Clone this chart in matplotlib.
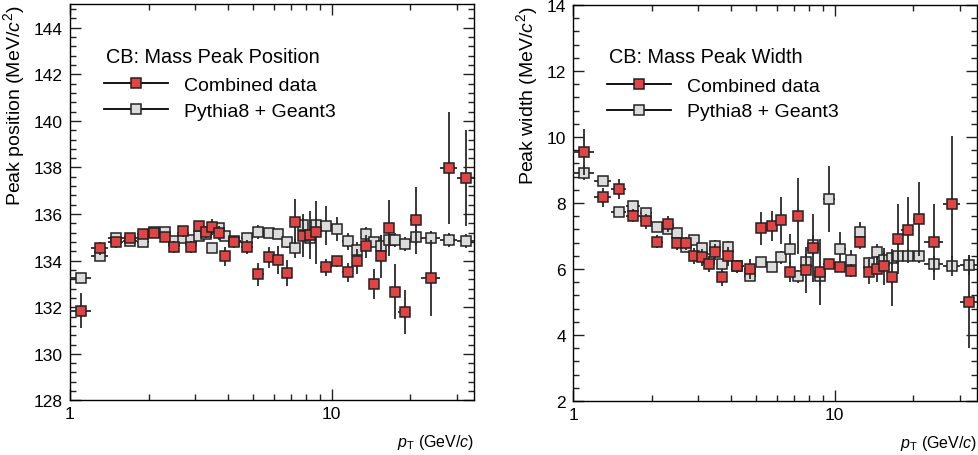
import numpy as np
import matplotlib
matplotlib.use("Agg")
import matplotlib.pyplot as plt
from matplotlib.lines import Line2D
from matplotlib.ticker import LogLocator, FixedLocator, FixedFormatter, MultipleLocator, NullFormatter

plt.rcParams['font.family'] = ['Liberation Sans', 'DejaVu Sans']
plt.rcParams['mathtext.fontset'] = 'custom'
plt.rcParams['mathtext.rm'] = 'Liberation Sans'
plt.rcParams['mathtext.it'] = 'Liberation Sans:italic'
plt.rcParams['mathtext.bf'] = 'Liberation Sans:bold'

# pT bin edges (GeV/c)
pt_edges = [1.0, 1.2, 1.4, 1.6, 1.8, 2.0, 2.2, 2.4, 2.6, 2.8, 3.0, 3.2, 3.4, 3.6, 3.8, 4.0,
            4.5, 5.0, 5.5, 6.0, 6.5, 7.0, 7.5, 8.0, 8.5, 9.0,
            10, 11, 12, 13, 14, 15, 16, 17, 18,
            20, 22, 26, 30, 35]

# Peak position (MeV/c^2)
pos_data = [131.85, 134.53, 134.78, 134.96, 135.14, 135.17, 135.00, 134.60, 135.26, 134.60,
            135.50, 135.24, 135.45, 135.17, 134.18, 134.81, 134.60, 133.42, 134.14, 134.04,
            133.47, 135.67, 135.07, 135.10, 135.21, 133.71, 133.97, 133.50, 133.97, 134.61,
            133.00, 134.18, 135.40, 132.67, 131.80, 135.74, 133.25, 137.97, 137.55]
pos_data_err = [0.75, 0.27, 0.24, 0.20, 0.21, 0.15, 0.15, 0.26, 0.23, 0.25,
                0.21, 0.26, 0.34, 0.30, 0.39, 0.25, 0.30, 0.50, 0.45, 0.60,
                0.54, 0.97, 0.93, 1.04, 1.37, 0.36, 0.25, 0.41, 0.54, 0.50,
                0.63, 0.93, 1.20, 1.18, 0.93, 1.44, 1.64, 2.40, 2.05]
pos_mc = [133.24, 134.21, 134.97, 134.86, 134.78, 135.24, 135.21, 134.86, 134.97, 134.88,
          135.07, 135.14, 134.53, 135.39, 135.07, 134.86, 134.96, 135.21, 135.17, 135.14,
          134.78, 134.53, 135.53, 134.96, 135.53, 135.50, 135.36, 134.83, 134.45, 135.14,
          134.82, 134.61, 134.90, 134.90, 134.71, 135.00, 134.96, 134.88, 134.83]
pos_mc_err = [0.12, 0.10, 0.10, 0.10, 0.10, 0.10, 0.10, 0.10, 0.10, 0.12,
              0.12, 0.12, 0.15, 0.15, 0.15, 0.15, 0.15, 0.30, 0.20, 0.20,
              0.25, 0.40, 0.30, 0.30, 0.30, 0.84, 0.50, 0.36, 0.36, 0.30,
              0.20, 0.50, 0.30, 0.30, 0.30, 0.30, 0.30, 0.30, 0.30]

# Peak width (MeV/c^2)
wid_data = [9.55, 8.17, 8.42, 7.62, 7.45, 6.83, 7.36, 6.78, 6.78, 6.40,
            6.35, 6.15, 6.52, 5.75, 6.38, 6.08, 6.00, 7.24, 7.31, 7.48,
            5.90, 7.60, 5.98, 6.63, 5.90, 6.15, 6.05, 5.95, 6.81, 5.92,
            6.00, 6.08, 5.75, 6.91, 7.18, 7.52, 6.81, 7.97, 5.01]
wid_data_err = [0.70, 0.28, 0.30, 0.20, 0.23, 0.20, 0.25, 0.20, 0.20, 0.25,
                0.25, 0.25, 0.25, 0.25, 0.30, 0.20, 0.30, 0.50, 0.45, 0.71,
                0.30, 1.15, 0.70, 1.03, 1.00, 0.15, 0.15, 0.20, 0.20, 0.38,
                0.40, 0.55, 0.86, 1.06, 1.00, 1.13, 1.15, 2.05, 1.40]
wid_mc = [8.91, 8.66, 7.72, 7.90, 7.69, 7.28, 7.21, 7.09, 6.66, 6.88,
          6.64, 6.30, 6.69, 6.15, 6.66, 6.10, 5.78, 6.20, 6.05, 6.35,
          6.61, 5.78, 6.22, 6.73, 5.80, 8.12, 6.61, 6.28, 7.13, 6.17,
          6.52, 6.27, 6.33, 6.38, 6.40, 6.38, 6.15, 6.10, 6.12]
wid_mc_err = [0.20, 0.12, 0.10, 0.12, 0.10, 0.10, 0.15, 0.10, 0.15, 0.15,
              0.15, 0.15, 0.20, 0.15, 0.20, 0.15, 0.15, 0.15, 0.15, 0.20,
              0.45, 0.20, 0.25, 0.30, 0.30, 1.00, 0.50, 0.30, 0.30, 0.20,
              0.25, 0.25, 0.20, 0.20, 0.20, 0.20, 0.25, 0.30, 0.30]

edges = np.array(pt_edges)
pt = 0.5 * (edges[1:] + edges[:-1])
pt_halfwidth = 0.5 * (edges[1:] - edges[:-1])

RED = '#e04444'
GREY = '#dcdcdc'
BAR = '#2a2a2a'
EDGE = '#222222'

fig = plt.figure(figsize=(9.79, 4.56), dpi=100)
ax1 = fig.add_axes([0.0715, 0.1197, 0.4127, 0.8684])
ax2 = fig.add_axes([0.5853, 0.1184, 0.4127, 0.8684])


def draw_panel(ax, data, data_err, mc, mc_err, ylim, ylabel, title):
    ax.errorbar(pt, mc, xerr=pt_halfwidth, yerr=mc_err, fmt='s', ms=7, mfc=GREY,
                mec=EDGE, mew=1.1, ecolor=BAR, elinewidth=1.3, capsize=0, zorder=3)
    ax.errorbar(pt, data, xerr=pt_halfwidth, yerr=data_err, fmt='s', ms=7, mfc=RED,
                mec=EDGE, mew=1.1, ecolor=BAR, elinewidth=1.3, capsize=0, zorder=4)
    ax.set_xscale('log')
    ax.set_xlim(1, 35)
    ax.set_ylim(*ylim)
    ax.xaxis.set_major_locator(FixedLocator([1, 10]))
    ax.xaxis.set_major_formatter(FixedFormatter(['1', '10']))
    ax.xaxis.set_minor_locator(LogLocator(base=10, subs=np.arange(2, 10)))
    ax.xaxis.set_minor_formatter(NullFormatter())
    ax.yaxis.set_major_locator(MultipleLocator(2))
    ax.yaxis.set_minor_locator(MultipleLocator(0.4))
    ax.tick_params(which='both', direction='in', top=True, right=True,
                   labelsize=12.5, width=1.0, color=EDGE)
    ax.tick_params(axis='y', pad=5)
    ax.tick_params(axis='x', pad=4)
    ax.tick_params(which='major', length=8)
    ax.tick_params(which='minor', length=4.5)
    for sp in ax.spines.values():
        sp.set_linewidth(1.0)
    ax.set_ylabel(ylabel, fontsize=14, loc='top', labelpad=5)
    ax.set_xlabel(r'$p_{\mathrm{T}}$ (GeV/$c$)', fontsize=11.5, loc='right', labelpad=8)

    ax.text(0.089, 0.869, title, transform=ax.transAxes, fontsize=14.3,
            ha='left', va='center')
    h_data = Line2D([], [], color='black', lw=1.3, marker='s', ms=7, mfc=RED,
                    mec=EDGE, mew=1.1)
    h_mc = Line2D([], [], color='black', lw=1.3, marker='s', ms=7, mfc=GREY,
                  mec=EDGE, mew=1.1)
    ax.legend([h_data, h_mc], ['Combined data', 'Pythia8 + Geant3'],
              loc='upper left', bbox_to_anchor=(0.065, 0.838), frameon=False,
              fontsize=14, handlelength=3.3, handletextpad=0.8, labelspacing=0.42,
              borderaxespad=0)


draw_panel(ax1, pos_data, pos_data_err, pos_mc, pos_mc_err, (128, 145),
           r'Peak position (MeV/$c^{2}$)', 'CB: Mass Peak Position')
draw_panel(ax2, wid_data, wid_data_err, wid_mc, wid_mc_err, (2, 14),
           r'Peak width (MeV/$c^{2}$)', 'CB: Mass Peak Width')

fig.savefig('out.png', dpi=100)
